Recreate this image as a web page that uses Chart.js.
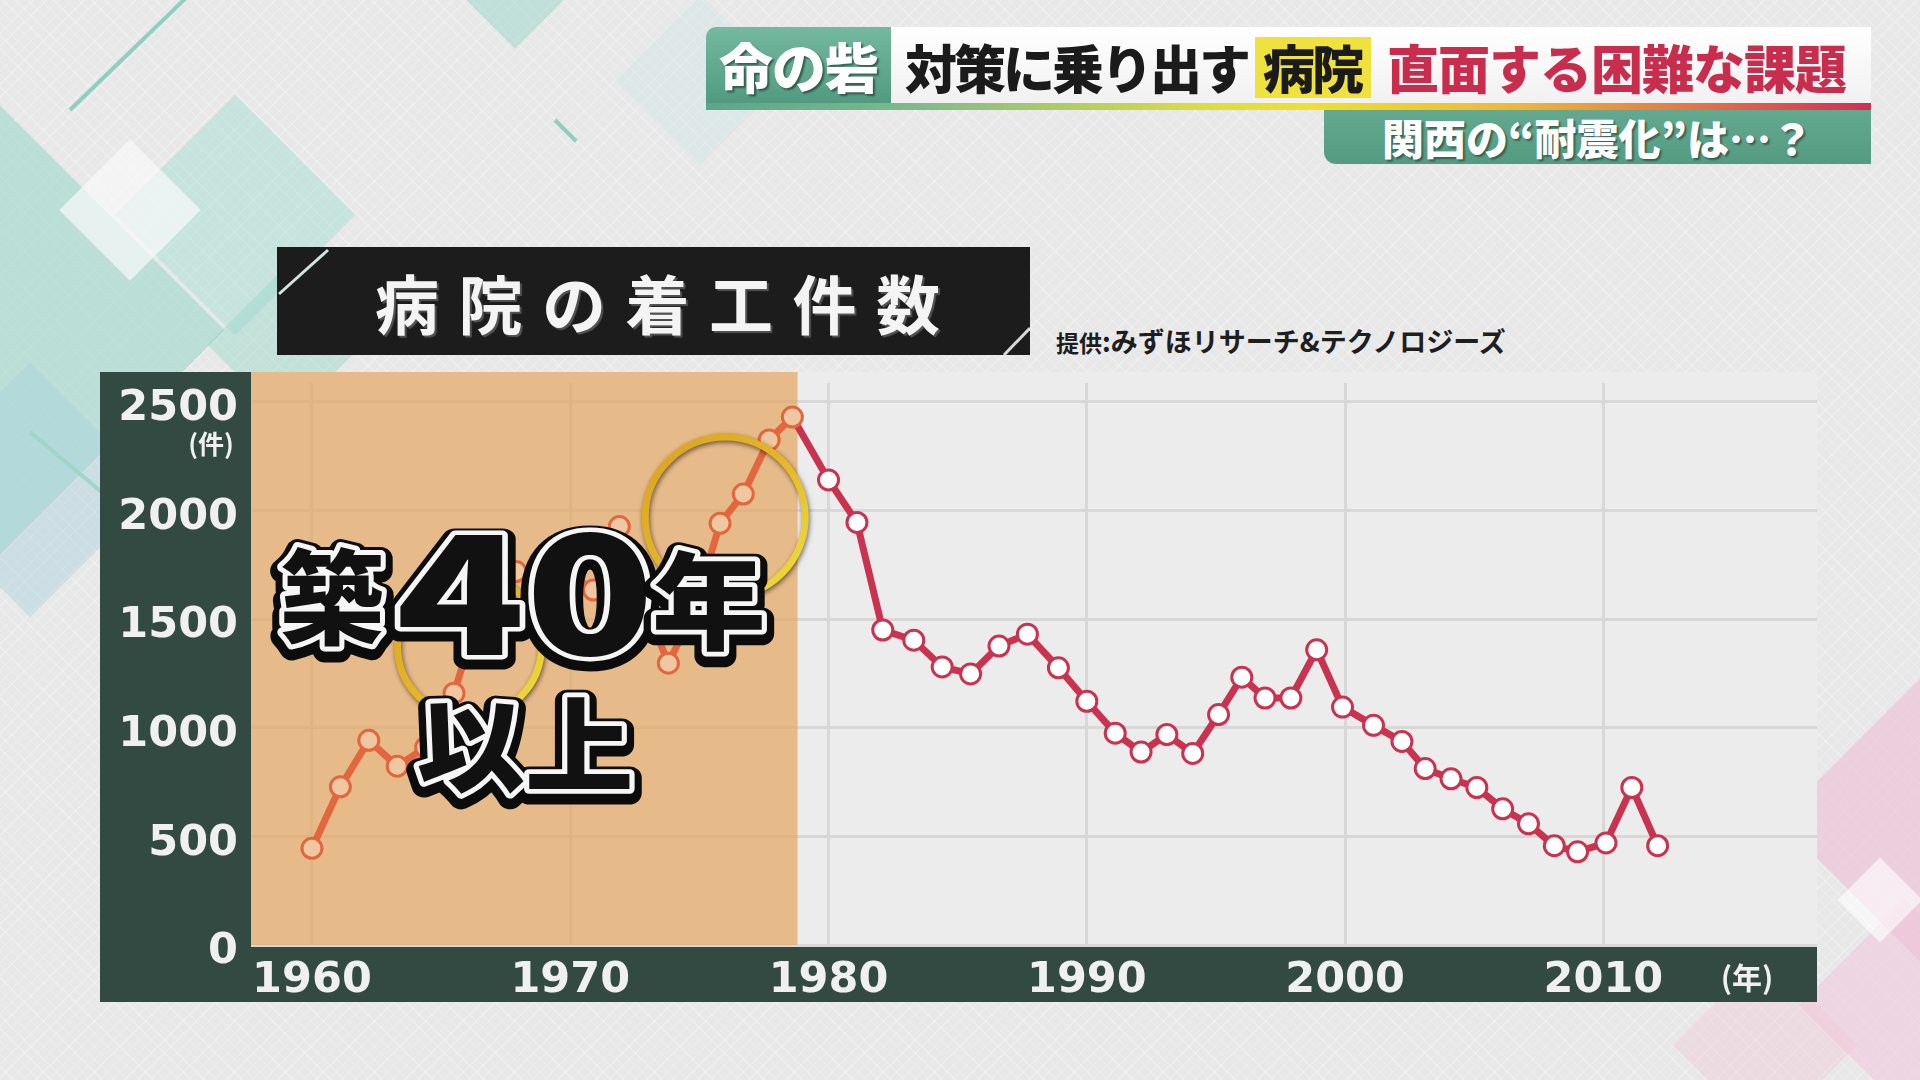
<!DOCTYPE html>
<html>
<head>
<meta charset="utf-8">
<script src="https://cdn.jsdelivr.net/npm/chart.js@4.4.1/dist/chart.umd.min.js"></script>
<style>
html,body{margin:0;padding:0;width:1920px;height:1080px;overflow:hidden;background:#e8e8e8;font-family:"Noto Sans CJK JP","Noto Sans",sans-serif;}
.abs{position:absolute;}
#bg{position:absolute;left:0;top:0;width:1920px;height:1080px;overflow:hidden;
  background-image:repeating-linear-gradient(45deg,rgba(255,255,255,0.25) 0 1px,transparent 1px 9px),repeating-linear-gradient(-45deg,rgba(255,255,255,0.25) 0 1px,transparent 1px 9px);}
.dia{position:absolute;transform:rotate(45deg);}
.ln{position:absolute;height:4px;transform-origin:0 50%;}
#tab{left:706px;top:27px;width:185px;height:80px;background:linear-gradient(180deg,#74b9a0,#4f997f);border-radius:10px 0 0 0;}
#tab span{position:absolute;left:0;width:185px;top:0;line-height:78px;text-align:center;color:#fff;font-size:54px;font-weight:900;letter-spacing:-1px;text-shadow:2px 2px 2px rgba(0,0,0,0.45);}
#bar{left:891px;top:27px;width:980px;height:76px;background:linear-gradient(180deg,#ffffff,#f1f1f1);}
.bt{position:absolute;top:0;line-height:80px;font-size:52px;font-weight:900;white-space:nowrap;}
#hl{left:364px;top:10px;width:116px;height:61px;background:#efe23c;}
#stripe{left:706px;top:103px;width:1165px;height:7px;background:linear-gradient(90deg,#5aa68a 0%,#7fba8c 18%,#d9dc45 42%,#f0df2e 52%,#eeb53a 70%,#e0704a 86%,#cf2f55 100%);}
#sub{left:1324px;top:110px;width:547px;height:54px;background:linear-gradient(180deg,#63a990,#559b82);border-radius:0 0 0 12px;}
#sub span{position:absolute;left:0;width:547px;top:0;line-height:54px;text-align:center;color:#fff;font-size:42px;font-weight:900;letter-spacing:0px;text-shadow:2px 2px 2px rgba(0,0,0,0.4);}
#title{left:277px;top:247px;width:753px;height:108px;background:#1c1c1c;}
#title span{position:absolute;left:98px;top:0;line-height:108px;color:#f4f4f4;font-size:64px;font-weight:700;letter-spacing:19.5px;white-space:nowrap;text-shadow:2px 2px 1px rgba(120,120,120,0.6);}
#src{left:1056px;top:322px;color:#1e1e1e;font-weight:700;white-space:nowrap;line-height:38px;}
#wrap{position:absolute;left:100px;top:372px;width:1717px;height:630px;}
</style>
</head>
<body>
<div id="bg">
  <div class="dia" style="left:-210px;top:150px;width:360px;height:360px;background:rgba(150,214,200,0.55);"></div>
  <div class="dia" style="left:150px;top:130px;width:170px;height:170px;background:rgba(160,222,210,0.45);"></div>
  <div class="dia" style="left:80px;top:160px;width:100px;height:100px;background:rgba(250,250,250,0.7);"></div>
  <div class="dia" style="left:-60px;top:400px;width:180px;height:180px;background:rgba(170,210,225,0.45);"></div>
  <div class="dia" style="left:230px;top:290px;width:110px;height:110px;background:rgba(150,214,200,0.45);"></div>
  <div class="dia" style="left:470px;top:-60px;width:90px;height:90px;background:rgba(150,214,200,0.5);"></div>
  <div class="dia" style="left:640px;top:20px;width:120px;height:120px;background:rgba(200,230,228,0.35);"></div>
  <div class="ln" style="left:70px;top:108px;width:160px;background:#8fcfbf;transform:rotate(-44deg);"></div>
  <div class="ln" style="left:30px;top:430px;width:120px;background:#9fd6c8;transform:rotate(40deg);"></div>
  <div class="ln" style="left:555px;top:118px;width:30px;background:#8fcfbf;transform:rotate(45deg);"></div>
  <div class="dia" style="left:1820px;top:720px;width:200px;height:200px;background:rgba(238,190,214,0.6);"></div>
  <div class="dia" style="left:1830px;top:930px;width:150px;height:150px;background:rgba(240,196,218,0.55);"></div>
  <div class="dia" style="left:1850px;top:870px;width:60px;height:60px;background:rgba(255,255,255,0.6);"></div>
  <div class="dia" style="left:1600px;top:800px;width:160px;height:160px;background:rgba(245,215,200,0.35);"></div>
  <div class="dia" style="left:1700px;top:980px;width:130px;height:130px;background:rgba(242,200,215,0.4);"></div>
</div>

<div id="tab" class="abs"><span>命の砦</span></div>
<div id="bar" class="abs">
  <span class="bt" style="left:14px;color:#1b1b1b;letter-spacing:-3px;">対策に乗り出す</span>
  <div id="hl" class="abs"></div>
  <span class="bt" style="left:372px;color:#1b1b1b;letter-spacing:-3px;">病院</span>
  <span class="bt" style="left:496px;color:#c92d4e;letter-spacing:-1px;">直面する困難な課題</span>
</div>
<div id="stripe" class="abs"></div>
<div id="sub" class="abs"><span>関西の“耐震化”は…？</span></div>

<div id="title" class="abs"><span>病院の着工件数</span>
  <svg class="abs" style="left:0;top:0" width="753" height="108"><line x1="2" y1="47" x2="51" y2="3" stroke="#cfe6e0" stroke-width="3"/><line x1="727" y1="108" x2="753" y2="81" stroke="#d8d8d8" stroke-width="3"/></svg>
</div>
<div id="src" class="abs"><span style="font-size:23px;">提供</span><span style="font-size:27px;">:みずほリサーチ&amp;テクノロジーズ</span></div>

<div id="wrap"><canvas id="c" width="1717" height="630" style="width:1717px;height:630px;"></canvas></div>

<script>
// ---- data ----
const years = [1960.0,1961.1,1962.2,1963.3,1964.4,1965.5,1966.7,1967.9,1968.9,1970.0,1970.9,1971.9,1972.9,1973.8,1974.8,1975.8,1976.7,1977.7,1978.6,
               1980.0,1981.1,1982.1,1983.3,1984.4,1985.5,1986.6,1987.7,1988.9,1990.0,1991.1,1992.1,1993.1,1994.1,1995.1,1996.0,1996.9,1997.9,1998.9,1999.9,
               2001.1,2002.2,2003.1,2004.1,2005.1,2006.1,2007.1,2008.1,2009.0,2010.1,2011.1,2012.1];
const counts = [445,728,942,823,910,1159,1620,1719,1730,1710,1634,1926,1560,1297,1540,1941,2076,2325,2430,
                2141,1945,1450,1403,1280,1248,1376,1431,1276,1122,975,888,969,882,1061,1233,1137,1137,1359,1095,
                1011,937,812,765,725,627,558,457,429,470,725,457];
const xTicks = [1960,1970,1980,1990,2000,2010];
const yTicks = [0,500,1000,1500,2000,2500];
const yUnit = '(件)';
const xUnit = '(年)';
const highlightUntil = 1978.8;   // shaded "築40年以上" range end
const rings = [[1976.0,1970,80],[1966.1,1377,72]]; // [year, value, radius px]

const CRIMSON = '#c9334f', ORANGE = '#e2663e';

const deco = {
  id:'deco',
  beforeDraw(chart){
    const {ctx, chartArea:a, width, height} = chart;
    ctx.save();
    ctx.fillStyle = '#324a42';
    ctx.fillRect(0,0,width,height);
    ctx.fillStyle = '#ececec';
    ctx.fillRect(a.left,0,a.right-a.left,a.bottom);
    ctx.restore();
  },
  beforeDatasetsDraw(chart){
    const {ctx, chartArea:a, scales:{x}} = chart;
    const xr = x.getPixelForValue(highlightUntil);
    ctx.save();
    ctx.fillStyle = 'rgba(228,166,100,0.72)';
    ctx.fillRect(a.left,0,xr-a.left,a.bottom);
    ctx.restore();
  },
  afterDraw(chart){
    const {ctx, scales:{x,y}} = chart;
    ctx.save();
    ctx.fillStyle = '#f0f0f0';
    ctx.textAlign = 'center'; ctx.textBaseline = 'middle';
    ctx.font = 'bold 26px "Noto Sans CJK JP"';
    ctx.fillText(yUnit, 111, 72);
    ctx.font = 'bold 30px "Noto Sans CJK JP"';
    ctx.fillText(xUnit, 1647, 606);
    // rings
    rings.forEach(([yr,v,r])=>{
      const cx = x.getPixelForValue(yr), cy = y.getPixelForValue(v);
      ctx.save();
      ctx.shadowColor = 'rgba(0,0,0,0.55)'; ctx.shadowBlur = 5; ctx.shadowOffsetX = 1; ctx.shadowOffsetY = 2;
      const g = ctx.createLinearGradient(cx-r,cy-r,cx+r,cy+r);
      g.addColorStop(0,'#d9a322'); g.addColorStop(0.5,'#e6b626'); g.addColorStop(1,'#efe040');
      ctx.strokeStyle = g; ctx.lineWidth = 7;
      ctx.beginPath(); ctx.arc(cx,cy,r,0,Math.PI*2); ctx.stroke();
      ctx.restore();
    });
    // big caption
    const F = '900 150px "Noto Sans CJK JP"';
    fitText(ctx,'築',[182,174,282,275],F);
    fitText(ctx,'40',[300,160,547,285],F);
    fitText(ctx,'年',[555,178,662,280],F);
    fitText(ctx,'以上',[318,325,530,422],F);
    ctx.restore();
  }
};

function fitText(ctx,text,box,font){
  ctx.save();
  ctx.font = font;
  ctx.textAlign = 'left'; ctx.textBaseline = 'alphabetic';
  const m = ctx.measureText(text);
  const w = m.actualBoundingBoxLeft + m.actualBoundingBoxRight;
  const h = m.actualBoundingBoxAscent + m.actualBoundingBoxDescent;
  const sx = (box[2]-box[0])/w, sy = (box[3]-box[1])/h;
  const s = (sx+sy)/2;
  ctx.translate(box[0],box[1]);
  ctx.scale(sx,sy);
  const ox = m.actualBoundingBoxLeft, oy = m.actualBoundingBoxAscent;
  ctx.lineJoin = 'round'; ctx.miterLimit = 2;
  ctx.strokeStyle = '#0c0c0c'; ctx.lineWidth = 24/s;
  ctx.strokeText(text, ox, oy + 4/sy);
  ctx.strokeStyle = '#f6f6f6'; ctx.lineWidth = 10/s;
  ctx.strokeText(text, ox, oy);
  ctx.fillStyle = '#111111';
  ctx.fillText(text, ox, oy);
  ctx.restore();
}

const tickFont = {family:'DejaVu Sans', weight:'bold', size:43};

function build(){
  new Chart(document.getElementById('c'), {
    type:'line',
    data:{datasets:[{
      data: years.map((yr,i)=>({x:yr, y:counts[i]})),
      borderColor: CRIMSON,
      borderWidth: 7,
      tension: 0,
      pointRadius: 10,
      pointBorderWidth: 3,
      pointBackgroundColor: years.map(yr => yr < highlightUntil ? '#efc7a1' : '#ffffff'),
      pointBorderColor: years.map(yr => yr < highlightUntil ? ORANGE : CRIMSON),
      segment:{borderColor: c => c.p1.parsed.x < highlightUntil ? ORANGE : CRIMSON}
    }]},
    options:{
      responsive:false, animation:false,
      layout:{autoPadding:false, padding:{top:11,left:0,right:0,bottom:0}},
      plugins:{legend:{display:false}, tooltip:{enabled:false}},
      scales:{
        x:{type:'linear', min:1957.64, max:2018.27,
           afterBuildTicks: s => { s.ticks = xTicks.map(v=>({value:v})); },
           afterFit: s => { s.height = 57; s.paddingLeft = 0; s.paddingRight = 0; },
           grid:{color:'#d8d8d8', lineWidth:3, drawTicks:false},
           border:{display:false},
           ticks:{color:'#f0f0f0', font:tickFont, padding:10, maxRotation:0, autoSkip:false, callback:v=>String(v)}},
        y:{min:0, max:2587,
           afterBuildTicks: s => { s.ticks = yTicks.map(v=>({value:v})); },
           afterFit: s => { s.width = 151; s.paddingTop = 0; s.paddingBottom = 0; },
           grid:{color:'#d8d8d8', lineWidth:3, drawTicks:false},
           border:{display:false},
           ticks:{color:'#f0f0f0', font:{...tickFont, lineHeight:0.4}, padding:13, labelOffset:7, callback:v=>String(v)}}
      }
    },
    plugins:[deco]
  });
}
if (document.fonts && document.fonts.load) {
  Promise.all([
    document.fonts.load('900 150px "Noto Sans CJK JP"','築40年以上'),
    document.fonts.load('bold 43px "DejaVu Sans"','0123456789')
  ]).then(build, build);
} else build();
</script>
</body>
</html>
